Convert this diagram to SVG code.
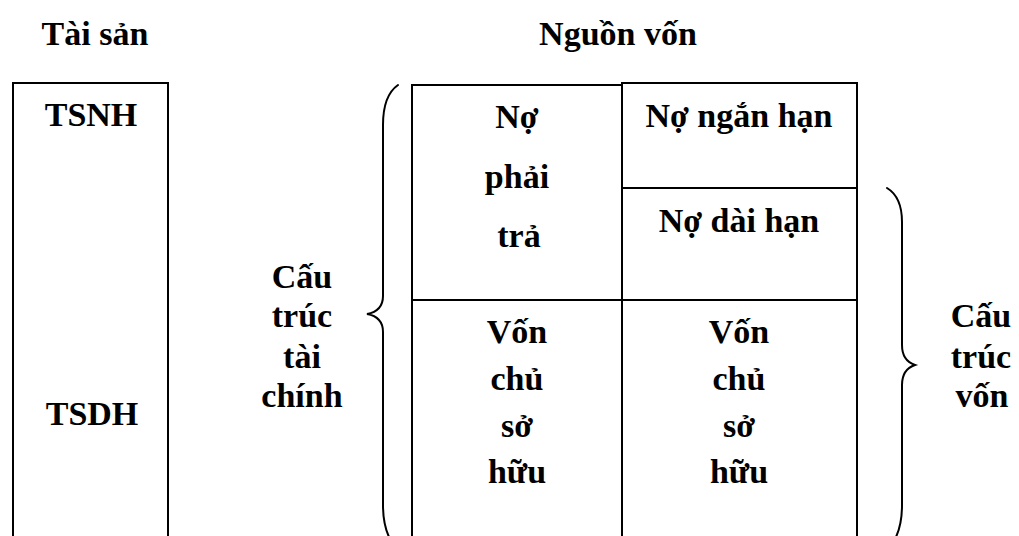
<svg xmlns="http://www.w3.org/2000/svg" width="1019" height="536" viewBox="0 0 1019 536">
  <style>
    .t { font-family: "Liberation Serif", "Times New Roman", serif; font-weight: bold; font-size: 34px; fill: #000; text-anchor: middle; }
    .ln { stroke: #000; stroke-width: 2; fill: none; }
    .br { stroke: #000; stroke-width: 2; fill: none; stroke-linecap: round; }
  </style>
  <rect width="1019" height="536" fill="#fff"/>

  <!-- column headings -->
  <g id="heading-assets">
    <text class="t" x="95" y="45">Tài sản</text>
  </g>
  <g id="heading-sources">
    <text class="t" x="618" y="45">Nguồn vốn</text>
  </g>

  <!-- assets column -->
  <g id="assets">
    <rect class="ln" x="13" y="83" width="155" height="470"/>
    <text class="t" x="91" y="126">TSNH</text>
    <text class="t" x="92" y="425">TSDH</text>
  </g>

  <!-- sources table -->
  <g id="sources-table">
    <path class="ln" d="M412,560 L412,85 L622,85"/>
    <path class="ln" d="M622,560 L622,83 L857,83 L857,560"/>
    <line class="ln" x1="622" y1="188" x2="857" y2="188"/>
    <line class="ln" x1="412" y1="300" x2="857" y2="300"/>
  </g>

  <g id="liabilities">
    <text class="t" x="517" y="128">Nợ</text>
    <text class="t" x="517" y="188">phải</text>
    <text class="t" x="519" y="247">trả</text>
  </g>
  <g id="short-term-debt">
    <text class="t" x="739" y="127">Nợ ngắn hạn</text>
  </g>
  <g id="long-term-debt">
    <text class="t" x="739" y="232">Nợ dài hạn</text>
  </g>
  <g id="equity-left">
    <text class="t" x="517" y="343">Vốn</text>
    <text class="t" x="517" y="390">chủ</text>
    <text class="t" x="517" y="437">sở</text>
    <text class="t" x="517" y="483">hữu</text>
  </g>
  <g id="equity-right">
    <text class="t" x="739" y="343">Vốn</text>
    <text class="t" x="739" y="390">chủ</text>
    <text class="t" x="739" y="437">sở</text>
    <text class="t" x="739" y="483">hữu</text>
  </g>

  <!-- braces -->
  <g id="connectors">
    <path class="br" d="M398,85 C388,92 383,105 383,125 L383,296 C383,306 378,312 367,314 C378,316 383,322 383,332 L383,505 C383,525 388,540 398,550"/>
    <path class="br" d="M887,188 C897,194 902,205 902,222 L902,345 C902,356 906,362 915,365 C906,368 902,374 902,385 L902,505 C902,525 897,540 887,550"/>
  </g>

  <g id="financial-structure">
    <text class="t" x="302" y="288">Cấu</text>
    <text class="t" x="302" y="327">trúc</text>
    <text class="t" x="302" y="368">tài</text>
    <text class="t" x="302" y="407">chính</text>
  </g>
  <g id="capital-structure">
    <text class="t" x="981" y="327">Cấu</text>
    <text class="t" x="981" y="368">trúc</text>
    <text class="t" x="982" y="407">vốn</text>
  </g>
</svg>
